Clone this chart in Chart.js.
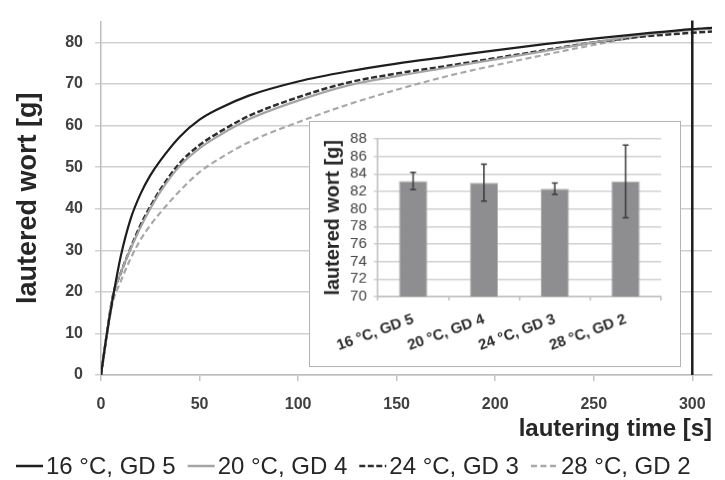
<!DOCTYPE html>
<html>
<head>
<meta charset="utf-8">
<script src="https://cdn.jsdelivr.net/npm/chart.js@4"></script>
<style>
  body { margin: 0; background: #fff; }
  #wrap { position: relative; width: 725px; height: 480px; }
  #insetChart { position: absolute; left: 309px; top: 121px; border: 1.5px solid #b4b4b4; background: #fff; }
</style>
</head>
<body>
<div id="wrap">
  <canvas id="mainChart" width="725" height="480"></canvas>
  <canvas id="insetChart" width="372" height="246"></canvas>
</div>
<script>
// lautering curves, sampled time points [s]
var times = [0, 3, 6, 10, 15, 20, 25, 30, 40, 50, 60, 75, 100, 125, 150, 175, 200, 225, 250, 275, 300, 310];

// lautered wort [g] per mash condition
var wort16 = [0, 10, 18.5, 28.5, 37.5, 43.5, 48, 51.5, 57.3, 61.4, 64.1, 67.2, 70.6, 73, 74.9, 76.5, 78.1, 79.6, 80.9, 82.1, 83.2, 83.5];
var wort20 = [0, 10, 19, 24.5, 30.3, 35.5, 40, 44, 50.3, 54.5, 57.6, 61.5, 66, 69.6, 71.9, 73.9, 75.9, 77.9, 80, 81.8, 83.0, 83.3];
var wort24 = [0, 10, 19, 24.5, 30.5, 36, 40.5, 44.5, 51, 55.3, 58.4, 62.3, 66.8, 70.3, 72.5, 74.3, 76.2, 78.1, 80.0, 81.4, 82.3, 82.6];
var wort28 = [0, 9.5, 17.5, 22.5, 28, 32.5, 36, 39, 44.3, 48.8, 52, 56, 60.8, 65, 68.6, 71.8, 74.5, 77, 79.4, 81.5, 83.1, 83.6];

var seriesNames = ['16 °C, GD 5', '20 °C, GD 4', '24 °C, GD 3', '28 °C, GD 2'];

// end of lautering
var markTime = 300;

// inset: wort after lautering, mean and deviation
var groupLabels = ['16 °C, GD 5', '20 °C, GD 4', '24 °C, GD 3', '28 °C, GD 2'];
var finalMass = [83.2, 83.0, 82.3, 83.15];
var finalMassSd = [0.97, 2.1, 0.65, 4.15];

var yTicks = [0, 10, 20, 30, 40, 50, 60, 70, 80];
var xTicks = [0, 50, 100, 150, 200, 250, 300];
var insetTicks = [70, 72, 74, 76, 78, 80, 82, 84, 86, 88];

Chart.defaults.font.family = "'Liberation Sans', Arial, sans-serif";
Chart.defaults.color = '#3c3c3c';

function points(values) {
    return times.map(function (t, i) { return { x: t, y: values[i] }; });
}

function fixedTicks(list) {
    return function (s) { s.ticks = list.map(function (v) { return { value: v }; }); };
}

var markLine = {
    id: 'markLine',
    afterDatasetsDraw: function (chart) {
        var ctx = chart.ctx;
        var x = chart.scales.x.getPixelForValue(markTime);
        ctx.save();
        ctx.strokeStyle = '#1c1c1c';
        ctx.lineWidth = 2.5;
        ctx.beginPath();
        ctx.moveTo(x, chart.chartArea.top - 1);
        ctx.lineTo(x, chart.chartArea.bottom);
        ctx.stroke();
        ctx.restore();
    }
};

// legend row: short line sample followed by the label
var lineLegend = {
    id: 'lineLegend',
    afterDraw: function (chart) {
        var ctx = chart.ctx;
        var x = 16, y = 466;
        ctx.save();
        ctx.font = "24px 'Liberation Sans', Arial, sans-serif";
        ctx.textBaseline = 'middle';
        chart.data.datasets.forEach(function (ds) {
            ctx.strokeStyle = ds.borderColor;
            ctx.lineWidth = 2.5;
            ctx.setLineDash(ds.borderDash || []);
            ctx.beginPath();
            ctx.moveTo(x, y);
            ctx.lineTo(x + 27, y);
            ctx.stroke();
            ctx.setLineDash([]);
            ctx.fillStyle = '#262626';
            ctx.fillText(ds.label, x + 30, y + 1);
            x += 30 + ctx.measureText(ds.label).width + 12;
        });
        ctx.restore();
    }
};

var errorBars = {
    id: 'errorBars',
    afterDatasetsDraw: function (chart) {
        var ctx = chart.ctx;
        var y = chart.scales.y;
        var meta = chart.getDatasetMeta(0);
        ctx.save();
        ctx.strokeStyle = '#3a3a3a';
        ctx.lineWidth = 1.5;
        meta.data.forEach(function (bar, i) {
            var top = y.getPixelForValue(finalMass[i] + finalMassSd[i]);
            var bottom = y.getPixelForValue(finalMass[i] - finalMassSd[i]);
            ctx.beginPath();
            ctx.moveTo(bar.x, top);
            ctx.lineTo(bar.x, bottom);
            ctx.moveTo(bar.x - 3, top);
            ctx.lineTo(bar.x + 3, top);
            ctx.moveTo(bar.x - 3, bottom);
            ctx.lineTo(bar.x + 3, bottom);
            ctx.stroke();
        });
        ctx.restore();
    }
};

new Chart(document.getElementById('mainChart'), {
    type: 'line',
    data: {
        datasets: [
            { label: seriesNames[0], data: points(wort16), borderColor: '#1e1e1e', borderWidth: 2.2 },
            { label: seriesNames[1], data: points(wort20), borderColor: '#a4a4a4', borderWidth: 2.2 },
            { label: seriesNames[2], data: points(wort24), borderColor: '#2e2e2e', borderWidth: 2.5, borderDash: [6, 2.5] },
            { label: seriesNames[3], data: points(wort28), borderColor: '#a8a8a8', borderWidth: 2.2, borderDash: [6, 3.5] }
        ]
    },
    options: {
        responsive: false,
        animation: false,
        layout: { padding: { left: 12, right: 13, top: 14, bottom: 36 } },
        elements: {
            point: { radius: 0 },
            line: { cubicInterpolationMode: 'monotone' }
        },
        plugins: {
            legend: { display: false },
            tooltip: { enabled: false }
        },
        scales: {
            x: {
                type: 'linear',
                min: 0,
                max: 310,
                afterBuildTicks: fixedTicks(xTicks),
                afterFit: function (s) { s.height = 69; },
                ticks: { font: { size: 16, weight: 'bold' }, color: '#404040', padding: 14 },
                grid: { drawOnChartArea: false, tickLength: 6, color: '#c4c4c4', lineWidth: 1.5 },
                border: { color: '#bcbcbc', width: 1.5 },
                title: {
                    display: true,
                    text: 'lautering time [s]',
                    align: 'end',
                    font: { size: 24, weight: 'bold' },
                    color: '#262626',
                    padding: { top: 0, bottom: 0 }
                }
            },
            y: {
                min: 0,
                max: 85,
                afterBuildTicks: fixedTicks(yTicks),
                afterFit: function (s) { s.width = 89; },
                ticks: { font: { size: 16, weight: 'bold' }, color: '#404040', padding: 12 },
                grid: { color: '#d0d0d0', lineWidth: 1.5, tickLength: 6 },
                border: { color: '#bcbcbc', width: 1.5 },
                title: {
                    display: true,
                    text: 'lautered wort [g]',
                    font: { size: 27, weight: 'bold' },
                    color: '#262626',
                    padding: { top: 0, bottom: 0 }
                }
            }
        }
    },
    plugins: [markLine, lineLegend]
});

new Chart(document.getElementById('insetChart'), {
    type: 'bar',
    data: {
        labels: groupLabels,
        datasets: [{
            data: finalMass,
            backgroundColor: '#8e8e90',
            borderColor: '#b2b2b2',
            borderWidth: 1,
            categoryPercentage: 1,
            barPercentage: 0.4
        }]
    },
    options: {
        responsive: false,
        animation: false,
        layout: { padding: { left: 0, right: 19, top: 17, bottom: 0 } },
        plugins: {
            legend: { display: false },
            tooltip: { enabled: false }
        },
        scales: {
            x: {
                afterFit: function (s) { s.height = 70; },
                ticks: { minRotation: 20, maxRotation: 20, autoSkip: false, font: { size: 15, weight: 'bold' }, color: '#2a2a2a', padding: 10 },
                grid: { offset: true, drawOnChartArea: false, tickLength: 4, color: '#bdbdbd', lineWidth: 1.5 },
                border: { color: '#bdbdbd', width: 1.5 }
            },
            y: {
                min: 70,
                max: 88,
                afterBuildTicks: fixedTicks(insetTicks),
                afterFit: function (s) { s.width = 68; },
                ticks: { autoSkip: false, font: { size: 15 }, color: '#404040', padding: 7 },
                grid: { color: '#d0d0d0', lineWidth: 1.5, tickLength: 4 },
                border: { color: '#bdbdbd', width: 1.5 },
                title: {
                    display: true,
                    text: 'lautered wort [g]',
                    font: { size: 20, weight: 'bold' },
                    color: '#262626',
                    padding: { top: 11, bottom: 0 }
                }
            }
        }
    },
    plugins: [errorBars]
});
</script>
</body>
</html>
